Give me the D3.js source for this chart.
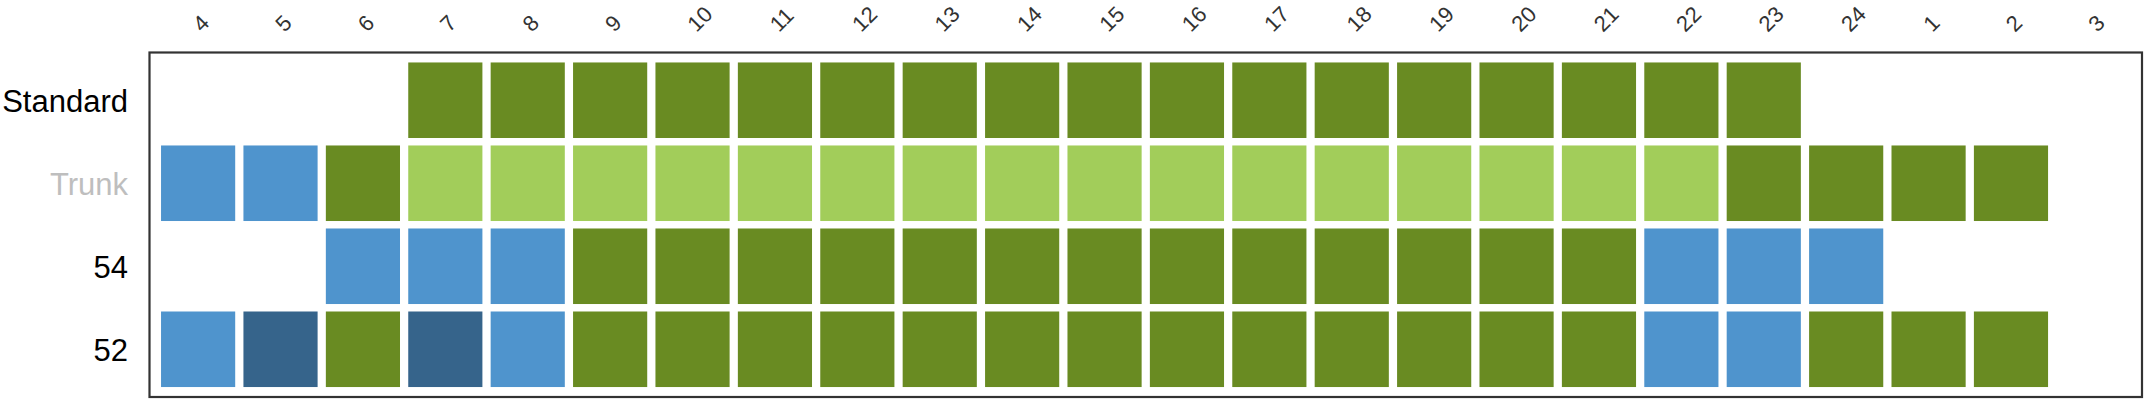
<!DOCTYPE html>
<html>
<head>
<meta charset="utf-8">
<script src="https://cdn.jsdelivr.net/npm/d3@7"></script>
<style>
  html, body { margin: 0; padding: 0; background: #ffffff; }
  svg { display: block; }
</style>
</head>
<body>
<script>
// ---- data ----
const columns = ["4","5","6","7","8","9","10","11","12","13","14","15","16","17","18","19","20","21","22","23","24","1","2","3"];
const rows = ["Standard", "Trunk", "54", "52"];
// codes: G = dark green, L = light green, B = blue, D = dark blue, "" = none
const standardCells = ["","","","G","G","G","G","G","G","G","G","G","G","G","G","G","G","G","G","G","","","",""];
const trunkCells    = ["B","B","G","L","L","L","L","L","L","L","L","L","L","L","L","L","L","L","L","G","G","G","G",""];
const cells54       = ["","","B","B","B","G","G","G","G","G","G","G","G","G","G","G","G","G","B","B","B","","",""];
const cells52       = ["B","D","G","D","B","G","G","G","G","G","G","G","G","G","G","G","G","G","B","B","G","G","G",""];
const rowCells = [standardCells, trunkCells, cells54, cells52];
const rowLabelColors = ["#000000", "#bebebe", "#000000", "#000000"];
const codes = ["G", "L", "B", "D"];
const codeColors = ["#698B22", "#A2CD5A", "#4F94CD", "#36648B"];

// ---- layout ----
const W = 2150, H = 400;
const frame = { left: 149.5, right: 2142, top: 52.5, bottom: 397 };

const svg = d3.select("body").append("svg")
  .attr("width", W).attr("height", H)
  .style("font-family", "'Liberation Sans', Arial, sans-serif");

svg.append("rect").attr("width", W).attr("height", H).attr("fill", "#ffffff");

const x = d3.scaleBand().domain(columns)
  .range([frame.left, frame.right]).paddingInner(0.1).paddingOuter(0.14);
const y = d3.scaleBand().domain(rows)
  .range([frame.top, frame.bottom]).paddingInner(0.09).paddingOuter(0.12);
const color = d3.scaleOrdinal().domain(codes).range(codeColors);

const data = [];
rows.forEach((r, i) => {
  rowCells[i].forEach((c, j) => {
    if (c) data.push({ row: r, col: columns[j], code: c });
  });
});

svg.append("g").selectAll("rect").data(data).join("rect")
  .attr("x", d => x(d.col))
  .attr("y", d => y(d.row))
  .attr("width", x.bandwidth())
  .attr("height", y.bandwidth())
  .attr("fill", d => color(d.code));

// frame
svg.append("rect")
  .attr("x", frame.left).attr("y", frame.top)
  .attr("width", frame.right - frame.left)
  .attr("height", frame.bottom - frame.top)
  .attr("fill", "none").attr("stroke", "#333333").attr("stroke-width", 2.2);

// row labels
svg.append("g").selectAll("text").data(rows).join("text")
  .attr("x", 128)
  .attr("y", d => y(d) + y.bandwidth() / 2 + 11.5)
  .attr("text-anchor", "end")
  .attr("font-size", 31)
  .attr("fill", (d, i) => rowLabelColors[i])
  .text(d => d);

// top column labels, rotated
svg.append("g").selectAll("text").data(columns).join("text")
  .attr("transform", d => `translate(${x(d) + x.bandwidth() / 2 + 4},33) rotate(-45)`)
  .attr("text-anchor", "start")
  .attr("font-size", 22)
  .attr("fill", "#333333")
  .text(d => d);
</script>
</body>
</html>
